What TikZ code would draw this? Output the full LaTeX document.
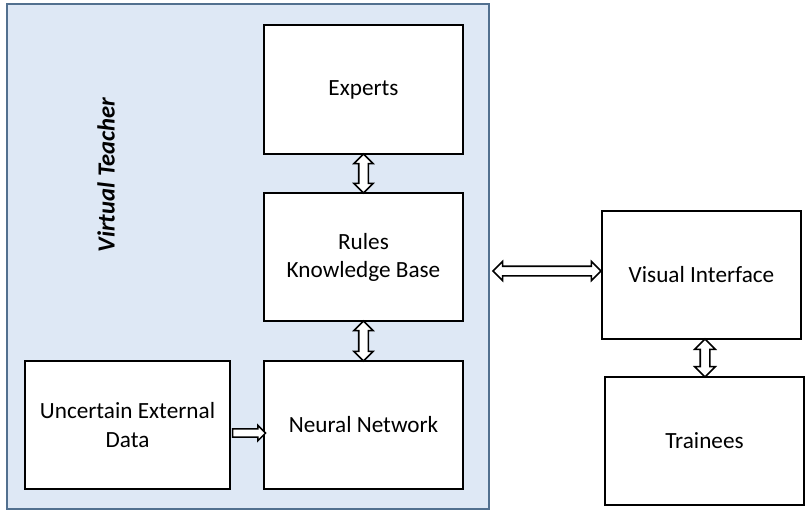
\documentclass[tikz,border=0pt]{standalone}
\usepackage{fontspec}
\setmainfont{Carlito}
\usetikzlibrary{calc,shapes.arrows}

\definecolor{panelfill}{HTML}{DEE8F5}
\definecolor{paneledge}{HTML}{52708F}

\tikzset{
    block/.style={draw,fill=white,line width=0.8pt,align=center,
        font=\fontsize{16.5}{20}\selectfont,inner sep=2pt},
    dblarrow/.style={double arrow,draw,fill=white,line width=1.1pt,
        inner sep=0.1cm,double arrow head extend=0.12cm},
    sglarrow/.style={single arrow,draw,fill=white,line width=1.1pt,
        inner sep=0.085cm,single arrow head extend=0.09cm}
}

\begin{document}
\begin{tikzpicture}[x=0.025cm,y=-0.025cm]

    \useasboundingbox[fill=white] (0,0) rectangle (811,516);

    % virtual teacher panel
    \draw [fill=panelfill,draw=paneledge,line width=1.4pt] (7,4) rectangle (489,509);
    \node [rotate=90,font=\fontsize{17.5}{20}\selectfont\bfseries\itshape] (Title)
        at (106,175) {Virtual Teacher};

    \node [block,minimum width=4.975cm,minimum height=3.225cm] (Experts)
        at (363.5,89.5) {Experts};
    \node [block,minimum width=4.975cm,minimum height=3.2cm] (Rules)
        at (363.5,257) {Rules\\Knowledge Base};
    \node [block,minimum width=4.975cm,minimum height=3.2cm] (Network)
        at (363.5,425) {Neural Network};
    \node [block,minimum width=5.125cm,minimum height=3.2cm] (External)
        at (127.5,425) {Uncertain External\\Data};
    \node [block,minimum width=4.975cm,minimum height=3.2cm] (Interface)
        at (701.5,275) {Visual Interface};
    \node [block,minimum width=4.975cm,minimum height=3.2cm] (Trainees)
        at (704.5,441) {Trainees};

    % block arrows
    \node [dblarrow,rotate=90,minimum height=0.975cm] (ExpRules)
        at ($(Experts.south)!0.5!(Rules.north)$) {};
    \node [dblarrow,rotate=90,minimum height=1cm] (RulesNet)
        at ($(Rules.south)!0.5!(Network.north)$) {};
    \node [dblarrow,minimum height=2.7cm] (TeacherView)
        at (547,271) {};
    \node [dblarrow,rotate=90,minimum height=0.95cm,double arrow head extend=0.14cm]
        (ViewTrainees) at (705,358) {};
    \node [sglarrow,minimum height=0.825cm] (DataNet)
        at ($(External.east)!0.5!(Network.west)+(0,8)$) {};

\end{tikzpicture}
\end{document}
